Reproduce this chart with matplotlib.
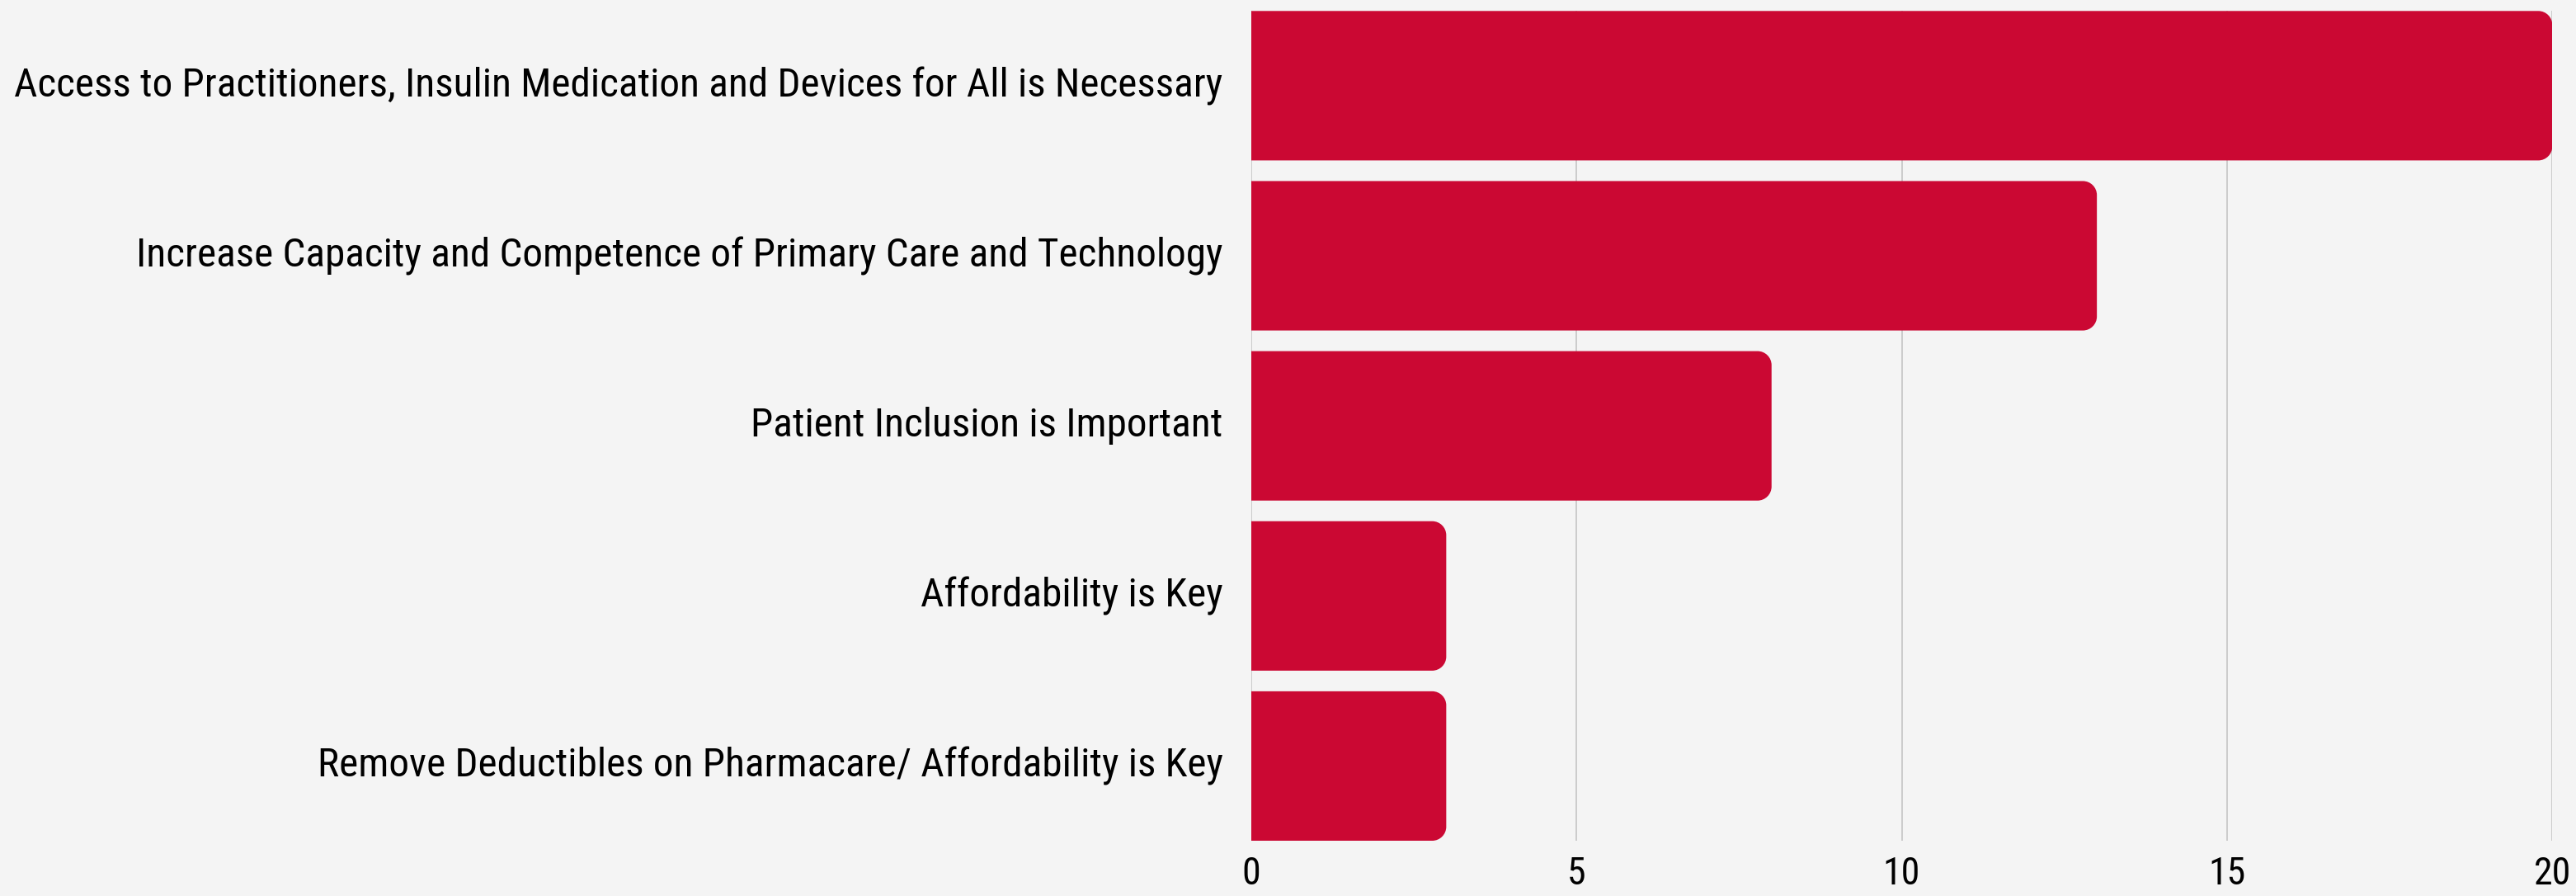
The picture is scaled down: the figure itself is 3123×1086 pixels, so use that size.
import matplotlib
matplotlib.use("Agg")
import matplotlib.pyplot as plt
import matplotlib.transforms as mtransforms
from matplotlib.path import Path
from matplotlib.patches import PathPatch
from matplotlib import font_manager

categories = [
    "Access to Practitioners, Insulin Medication and Devices for All is Necessary",
    "Increase Capacity and Competence of Primary Care and Technology",
    "Patient Inclusion is Important",
    "Affordability is Key",
    "Remove Deductibles on Pharmacare/ Affordability is Key",
]
values = [20, 13, 8, 3, 3]
xticks = [0, 5, 10, 15, 20]

names = {f.name for f in font_manager.fontManager.ttflist}
family = "DejaVu Sans"
for cand in ["Roboto Condensed", "Liberation Sans Narrow", "Roboto", "DejaVu Sans"]:
    if cand in names:
        family = cand
        break
plt.rcParams["font.family"] = [family, "DejaVu Sans"]

BG = "#F4F4F4"
RED = "#CB0833"
W, H = 3123, 1086
fig = plt.figure(figsize=(W / 100, H / 100), dpi=100, facecolor=BG)
ax = fig.add_axes([1516.7 / W, 1 - 1019 / H, (3094.3 - 1516.7) / W, (1019 - 13.3) / H])
ax.set_facecolor(BG)

n = len(categories)
bh = 181 / 206
ax.set_xlim(0, 20)
ax.set_ylim(n - 1 + bh / 2, -bh / 2)

ax_w_px = 3094.3 - 1516.7
ax_h_px = 1019 - 13.3
r_px = 17
rx = r_px * 20 / ax_w_px
ry = r_px * (n - 1 + bh) / ax_h_px
k = 0.5523

for i, v in enumerate(values):
    y0, y1 = i - bh / 2, i + bh / 2
    verts = [
        (0, y0), (v - rx, y0),
        (v - rx + k * rx, y0), (v, y0 + ry - k * ry), (v, y0 + ry),
        (v, y1 - ry),
        (v, y1 - ry + k * ry), (v - rx + k * rx, y1), (v - rx, y1),
        (0, y1), (0, y0),
    ]
    codes = [Path.MOVETO, Path.LINETO,
             Path.CURVE4, Path.CURVE4, Path.CURVE4,
             Path.LINETO,
             Path.CURVE4, Path.CURVE4, Path.CURVE4,
             Path.LINETO, Path.CLOSEPOLY]
    ax.add_patch(PathPatch(Path(verts, codes), facecolor=RED, edgecolor="none", zorder=3))

ax.set_yticks(range(n))
ax.set_yticklabels(categories, fontsize=35.5, color="#000000")
ax.set_xticks(xticks)
ax.set_xticklabels([str(t) for t in xticks], fontsize=33, color="#000000")
ax.tick_params(axis="both", length=0)
ax.tick_params(axis="y", pad=24.5)
ax.tick_params(axis="x", pad=13)
off = mtransforms.ScaledTranslation(0, 5 / 100, fig.dpi_scale_trans)
for lab in ax.get_yticklabels():
    lab.set_transform(lab.get_transform() + off)
for s in ax.spines.values():
    s.set_visible(False)
ax.grid(axis="x", color="#C4C4C4", linewidth=1.2, zorder=0)
ax.set_axisbelow(True)

fig.savefig("out.png", dpi=100, facecolor=BG)
